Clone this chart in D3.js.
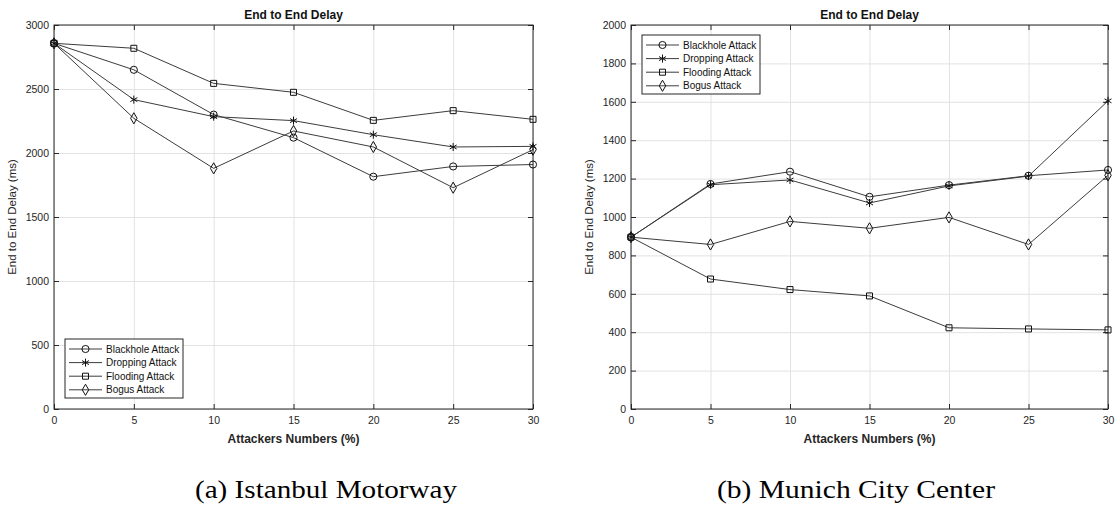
<!DOCTYPE html>
<html>
<head>
<meta charset="utf-8">
<script src="https://cdn.jsdelivr.net/npm/d3@7"></script>
<style>
  body { margin: 0; background: #fff; }
  svg { display: block; font-family: Arial, "Liberation Sans", sans-serif; }
  .grid line { stroke: #e2e2e2; stroke-width: 1; }
  .grid path { display: none; }
  .axis path { display: none; }
  .axis line { stroke: #262626; }
  .axis text { fill: #262626; font-size: 10.5px; }
</style>
</head>
<body>
<div id="chart"></div>
<script>
// x values shared by both panels
const attackers = [0, 5, 10, 15, 20, 25, 30];
const xTicks = [0, 5, 10, 15, 20, 25, 30];
const seriesNames = ['Blackhole Attack', 'Dropping Attack', 'Flooding Attack', 'Bogus Attack'];

// (a) Istanbul Motorway
const istanbulBlackhole = [2857, 2650, 2300, 2120, 1815, 1895, 1910];
const istanbulDropping  = [2857, 2417, 2284, 2253, 2143, 2047, 2052];
const istanbulFlooding  = [2857, 2818, 2544, 2474, 2255, 2331, 2263];
const istanbulBogus     = [2857, 2271, 1880, 2172, 2047, 1729, 2026];
const istanbulYTicks = [0, 500, 1000, 1500, 2000, 2500, 3000];

// (b) Munich City Center
const munichBlackhole = [895, 1172, 1236, 1105, 1166, 1215, 1245];
const munichDropping  = [895, 1168, 1193, 1073, 1162, 1213, 1605];
const munichFlooding  = [895, 677, 622, 589, 423, 417, 412];
const munichBogus     = [895, 857, 977, 941, 998, 857, 1217];
const munichYTicks = [0, 200, 400, 600, 800, 1000, 1200, 1400, 1600, 1800, 2000];

const W = 1117, H = 505;

const svg = d3.select('#chart')
    .append('svg')
    .attr('width', W)
    .attr('height', H);

svg.append('rect').attr('width', W).attr('height', H).attr('fill', '#fff');

const symbols = [d3.symbolCircle, d3.symbolAsterisk, d3.symbolSquare, d3.symbolDiamond];
const symbolSizes = [40, 45, 36, 36];
const fmt = d3.format('d');

function drawPanel(p) {
    const g = svg.append('g').attr('transform', 'translate(' + p.left + ',' + p.top + ')');
    const w = p.width, h = p.height;

    const x = d3.scaleLinear().domain([0, 30]).range([0, w]);
    const y = d3.scaleLinear().domain(p.yDomain).range([h, 0]);

    // grid
    g.append('g').attr('class', 'grid')
        .attr('transform', 'translate(0,' + h + ')')
        .call(d3.axisBottom(x).tickValues(xTicks).tickSize(-h).tickFormat(''));
    g.append('g').attr('class', 'grid')
        .call(d3.axisLeft(y).tickValues(p.yTicks).tickSize(-w).tickFormat(''));

    // axes with inward ticks (matlab style)
    g.append('g').attr('class', 'axis')
        .attr('transform', 'translate(0,' + h + ')')
        .call(d3.axisBottom(x).tickValues(xTicks).tickFormat(fmt).tickSizeInner(-5).tickSizeOuter(0).tickPadding(8));
    g.append('g').attr('class', 'axis')
        .call(d3.axisTop(x).tickValues(xTicks).tickSizeInner(-5).tickSizeOuter(0).tickFormat(''));
    g.append('g').attr('class', 'axis')
        .call(d3.axisLeft(y).tickValues(p.yTicks).tickFormat(fmt).tickSizeInner(-5).tickSizeOuter(0).tickPadding(5));
    g.append('g').attr('class', 'axis')
        .attr('transform', 'translate(' + w + ',0)')
        .call(d3.axisRight(y).tickValues(p.yTicks).tickSizeInner(-5).tickSizeOuter(0).tickFormat(''));

    g.append('rect')
        .attr('width', w).attr('height', h)
        .attr('fill', 'none').attr('stroke', '#262626').attr('stroke-width', 1);

    const line = d3.line()
        .x((d, i) => x(attackers[i]))
        .y(d => y(d));

    p.series.forEach((s, k) => {
        g.append('path')
            .datum(s)
            .attr('d', line)
            .attr('fill', 'none')
            .attr('stroke', '#3c3c3c')
            .attr('stroke-width', 1);
    });

    p.series.forEach((s, k) => {
        g.selectAll('.m' + k)
            .data(s)
            .enter()
            .append('path')
            .attr('class', 'm' + k)
            .attr('transform', (d, i) => 'translate(' + x(attackers[i]) + ',' + y(d) + ')')
            .attr('d', d3.symbol().type(symbols[k]).size(symbolSizes[k]))
            .attr('fill', 'none')
            .attr('stroke', '#111')
            .attr('stroke-width', 1);
    });

    // title and labels
    g.append('text')
        .attr('x', w / 2).attr('y', -6)
        .attr('text-anchor', 'middle')
        .attr('font-size', '12px').attr('font-weight', 'bold').attr('fill', '#111')
        .text('End to End Delay');

    g.append('text')
        .attr('x', w / 2).attr('y', h + 34)
        .attr('text-anchor', 'middle')
        .attr('font-size', '12px').attr('font-weight', 'bold').attr('fill', '#262626')
        .text('Attackers Numbers (%)');

    g.append('text')
        .attr('transform', 'translate(-38,' + (h / 2) + ') rotate(-90)')
        .attr('text-anchor', 'middle')
        .attr('font-size', '11.5px').attr('fill', '#262626')
        .text('End to End Delay (ms)');

    // legend
    const lg = g.append('g').attr('transform', 'translate(' + p.legendX + ',' + p.legendY + ')');
    lg.append('rect')
        .attr('width', 118).attr('height', 59)
        .attr('fill', '#fff').attr('stroke', '#262626').attr('stroke-width', 1);
    seriesNames.forEach((name, k) => {
        const ry = 10 + k * 13.6;
        lg.append('line')
            .attr('x1', 4).attr('x2', 37).attr('y1', ry).attr('y2', ry)
            .attr('stroke', '#3c3c3c').attr('stroke-width', 1);
        lg.append('path')
            .attr('transform', 'translate(20.5,' + ry + ')')
            .attr('d', d3.symbol().type(symbols[k]).size(symbolSizes[k]))
            .attr('fill', 'none').attr('stroke', '#111').attr('stroke-width', 1);
        lg.append('text')
            .attr('x', 41).attr('y', ry + 3.5)
            .attr('font-size', '10px').attr('fill', '#111')
            .text(name);
    });

    // caption
    svg.append('text')
        .attr('x', p.captionX).attr('y', 498)
        .attr('text-anchor', 'middle')
        .attr('font-family', '"Liberation Serif", "Times New Roman", serif')
        .attr('font-size', '26px').attr('fill', '#000')
        .attr('textLength', p.captionWidth).attr('lengthAdjust', 'spacingAndGlyphs')
        .text(p.caption);
}

drawPanel({
    left: 54, top: 25, width: 479, height: 384,
    yDomain: [0, 3000], yTicks: istanbulYTicks,
    series: [istanbulBlackhole, istanbulDropping, istanbulFlooding, istanbulBogus],
    legendX: 11, legendY: 314,
    caption: '(a)  Istanbul Motorway', captionX: 326, captionWidth: 262
});

drawPanel({
    left: 631, top: 25, width: 477, height: 384,
    yDomain: [0, 2000], yTicks: munichYTicks,
    series: [munichBlackhole, munichDropping, munichFlooding, munichBogus],
    legendX: 11, legendY: 10,
    caption: '(b)  Munich City Center', captionX: 856, captionWidth: 278
});
</script>
</body>
</html>
